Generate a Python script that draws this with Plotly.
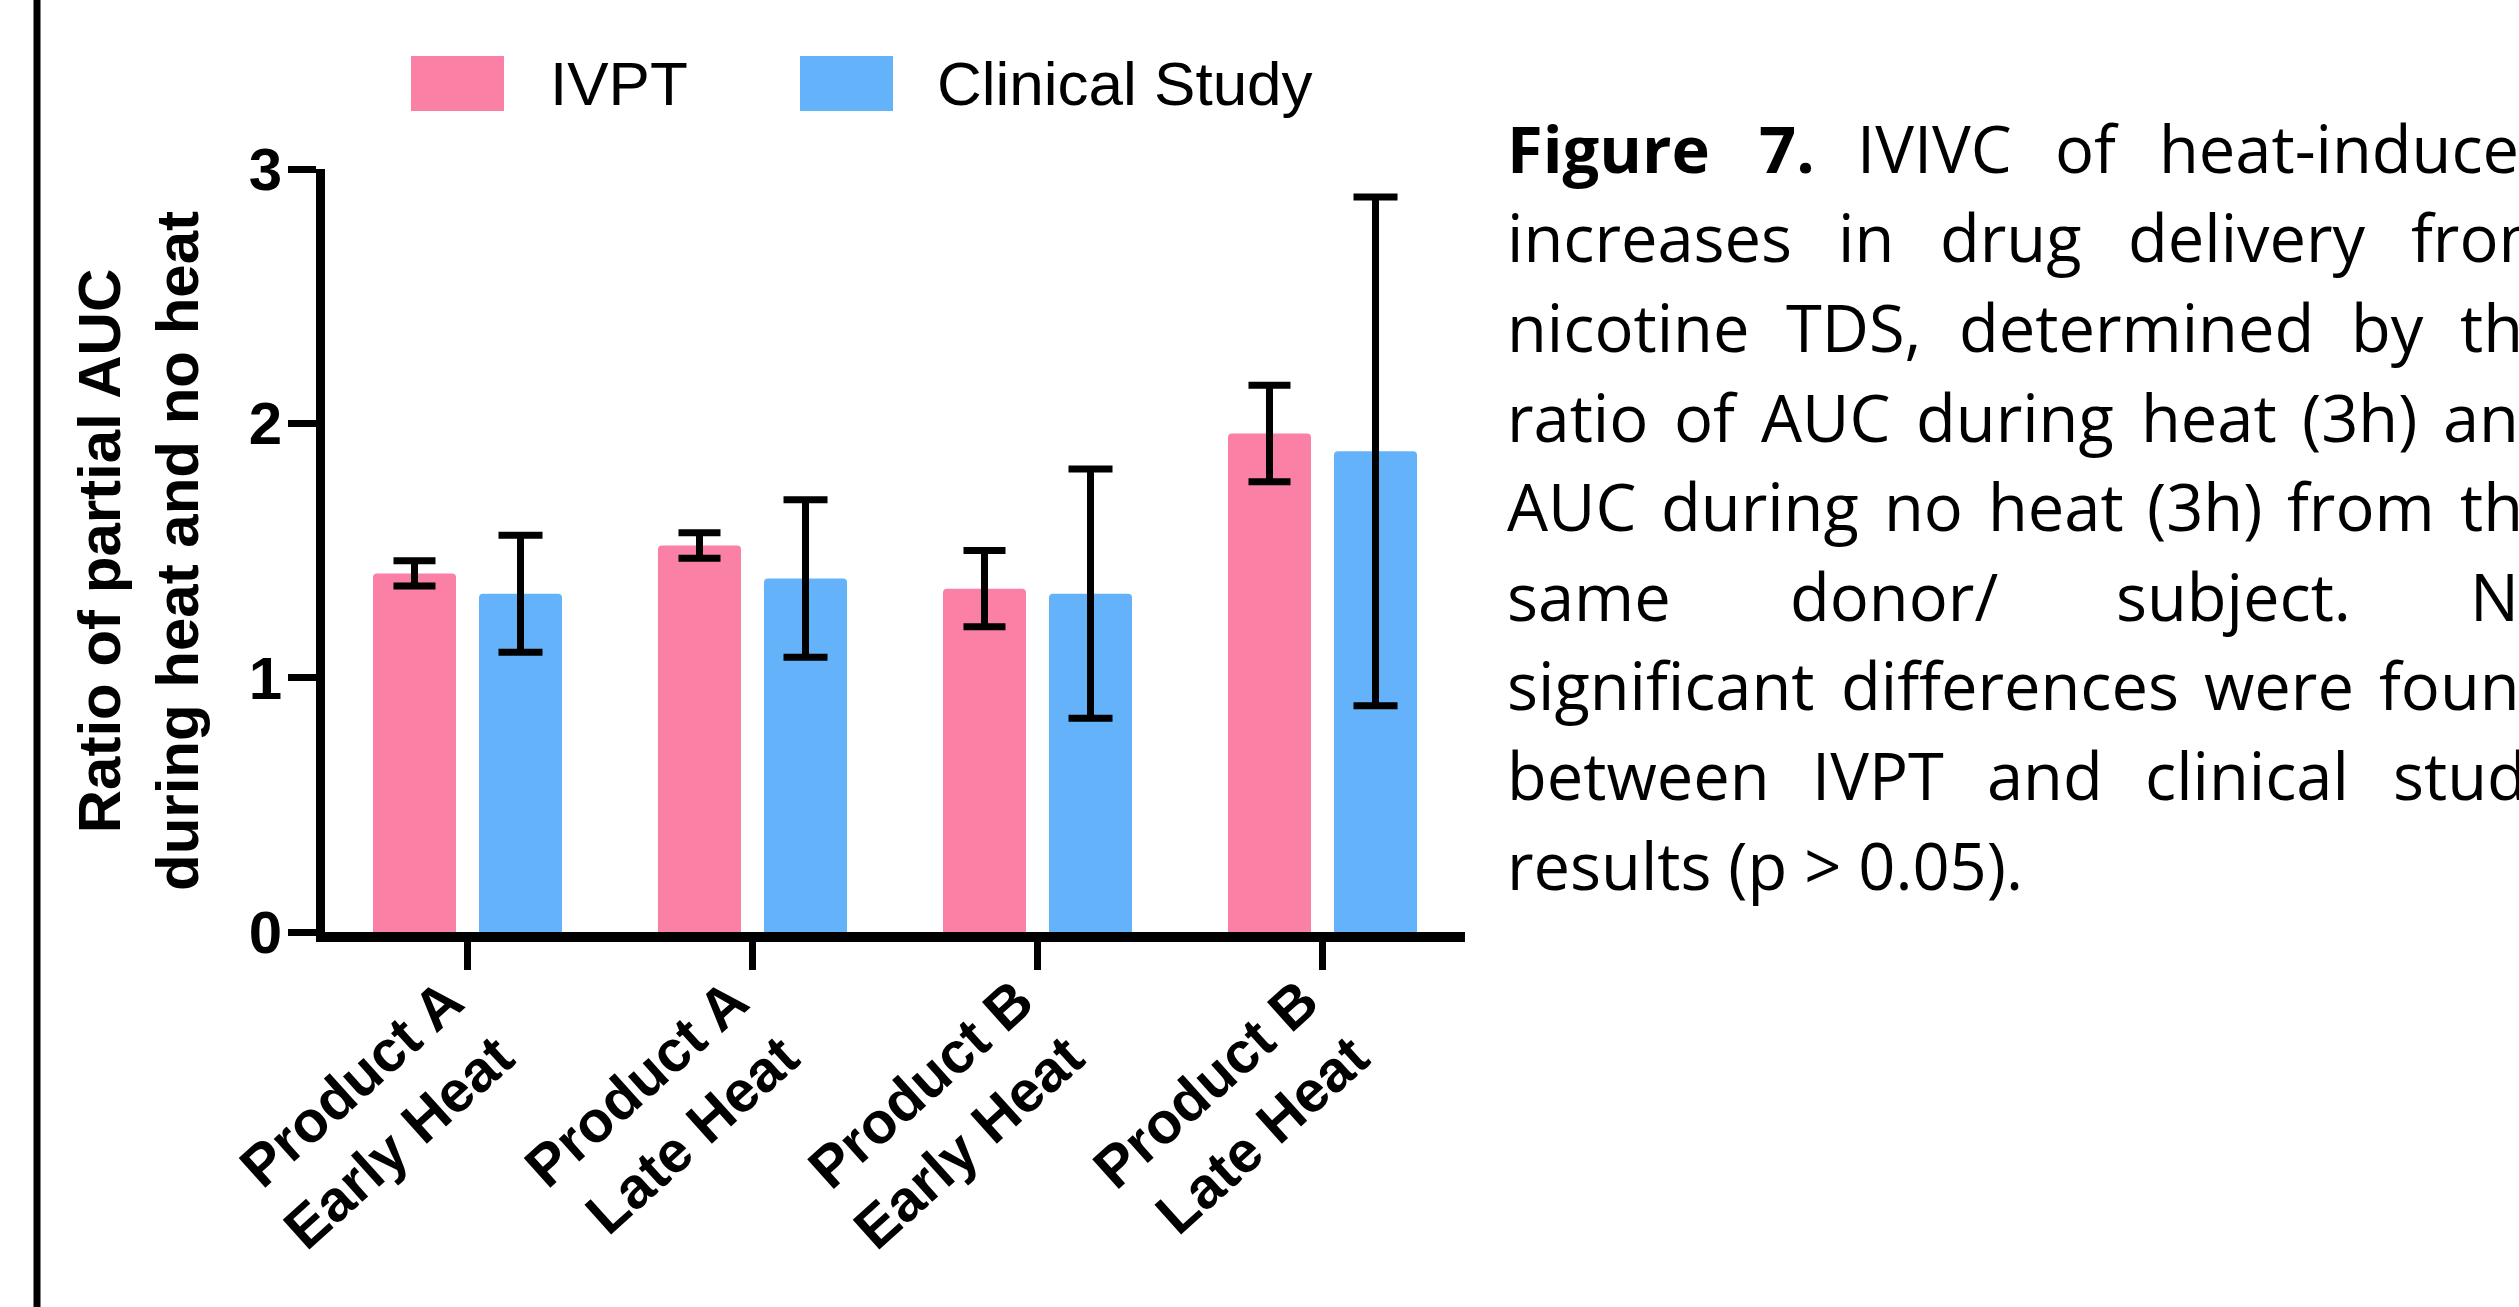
import plotly.graph_objects as go

# ---- data -------------------------------------------------------------
categories = ["Product A<br>Early Heat", "Product A<br>Late Heat",
              "Product B<br>Early Heat", "Product B<br>Late Heat"]
ivpt_mean = [1.41, 1.52, 1.35, 1.96]
ivpt_err = [0.05, 0.05, 0.15, 0.19]
clinical_mean = [1.33, 1.39, 1.33, 1.89]
clinical_err = [0.23, 0.31, 0.49, 1.00]
series_names = ["IVPT", "Clinical Study"]
y_ticks = [0, 1, 2, 3]
y_title = "Ratio of partial AUC<br>during heat and no heat"

caption_lines = [
    ["Figure", "7.", "IVIVC", "of", "heat-induced"],
    ["increases", "in", "drug", "delivery", "from"],
    ["nicotine", "TDS,", "determined", "by", "the"],
    ["ratio", "of", "AUC", "during", "heat", "(3h)", "and"],
    ["AUC", "during", "no", "heat", "(3h)", "from", "the"],
    ["same", "donor/", "subject.", "No"],
    ["significant", "differences", "were", "found"],
    ["between", "IVPT", "and", "clinical", "study"],
    ["results (p > 0.05)."],
]
caption_bold_words = {(0, 0), (0, 1)}

# ---- layout constants (pixels) ----------------------------------------
W, H = 2519, 1307
PL, PR, PT, PB = 325, 1465, 169, 932      # plot area edges
PINK = "#FA80A6"
BLUE = "#64B3FA"

CAP_LEFT, CAP_RIGHT = 1505, 2557          # justified text box (runs past the page edge)
CAP_BASE0, CAP_STEP = 173, 89.6
CAP_SIZE = 65

# approximate Open Sans advance widths (em) used to justify the caption
_REG = {
    'a': .556, 'b': .613, 'c': .48, 'd': .613, 'e': .561, 'f': .336, 'g': .548,
    'h': .613, 'i': .258, 'j': .258, 'k': .53, 'l': .258, 'm': .93, 'n': .613,
    'o': .6, 'p': .613, 'r': .408, 's': .479, 't': .352, 'u': .613, 'v': .5,
    'w': .774, 'y': .5, 'A': .633, 'C': .632, 'D': .74, 'I': .279, 'N': .765,
    'P': .603, 'S': .549, 'T': .556, 'U': .729, 'V': .6, '(': .296, ')': .296,
    '3': .572, '/': .367, '-': .322, '.': .266, ',': .266, '7': .572,
}
_BOLD = {'F': .575, 'i': .305, 'g': .586, 'u': .677, 'r': .47, 'e': .602,
         '7': .572, '.': .285}


def word_width(word, bold):
    table = _BOLD if bold else _REG
    return sum(table.get(ch, _REG.get(ch, .55)) for ch in word) * CAP_SIZE


def fx(px):
    return (px - PL) / (PR - PL)


def fy(py):
    return (PB - py) / (PB - PT)


fig = go.Figure()

fig.add_trace(go.Bar(
    x=categories, y=ivpt_mean, name=series_names[0],
    marker=dict(color=PINK, line=dict(width=0)),
    error_y=dict(type="data", array=ivpt_err, color="black",
                 thickness=7, width=21),
))
fig.add_trace(go.Bar(
    x=categories, y=clinical_mean, name=series_names[1],
    marker=dict(color=BLUE, line=dict(width=0)),
    error_y=dict(type="data", array=clinical_err, color="black",
                 thickness=7, width=22),
))

shapes = []
annotations = []

# legend swatches and labels
legend_items = [(series_names[0], PINK, 411, 548), (series_names[1], BLUE, 800, 935)]
for name, color, sx, tx in legend_items:
    shapes.append(dict(type="rect", xref="paper", yref="paper",
                       x0=fx(sx), x1=fx(sx + 93), y0=fy(111), y1=fy(56),
                       fillcolor=color, line=dict(width=0)))
    annotations.append(dict(text=name, xref="paper", yref="paper",
                            x=fx(tx), y=fy(84), xanchor="left", yanchor="middle",
                            showarrow=False,
                            font=dict(family="Liberation Sans, Arial", size=62,
                                      color="black")))

# frame line on the left edge of the page
shapes.append(dict(type="line", xref="paper", yref="paper",
                   x0=fx(37), x1=fx(37), y0=fy(-5), y1=fy(H + 5),
                   line=dict(color="black", width=7)))

# y-axis title (two bold lines, rotated)
annotations.append(dict(text=y_title, xref="paper", yref="paper",
                        x=fx(138), y=fy(551), xanchor="center", yanchor="middle",
                        textangle=-90, showarrow=False,
                        font=dict(family="Liberation Sans, Arial", size=60,
                                  color="black", weight="bold")))

# caption: fully justified lines, last line left-aligned
for li, words in enumerate(caption_lines):
    baseline = CAP_BASE0 + li * CAP_STEP
    bolds = [(li, wi) in caption_bold_words for wi in range(len(words))]
    widths = [word_width(w, b) for w, b in zip(words, bolds)]
    if len(words) > 1:
        gap = (CAP_RIGHT - CAP_LEFT - sum(widths)) / (len(words) - 1)
    else:
        gap = 0
    x = CAP_LEFT
    for word, bold, wd in zip(words, bolds, widths):
        annotations.append(dict(
            text=word, xref="paper", yref="paper",
            x=fx(x), y=fy(baseline - 0.388 * CAP_SIZE),
            xanchor="left", yanchor="middle", showarrow=False,
            font=dict(family="Open Sans", size=CAP_SIZE, color="black",
                      weight="bold" if bold else "normal"),
        ))
        x += wd + gap

fig.update_layout(
    width=W, height=H,
    margin=dict(l=PL, r=W - PR, t=PT, b=H - PB, pad=0),
    paper_bgcolor="white", plot_bgcolor="white",
    barmode="group", bargap=0.256, bargroupgap=0.217,
    barcornerradius=4,
    showlegend=False,
    shapes=shapes, annotations=annotations,
    xaxis=dict(
        type="category", range=[-0.5, 3.5],
        showline=True, linecolor="black", linewidth=10,
        ticks="outside", ticklen=28, tickwidth=7, tickcolor="black",
        tickangle=-42, showgrid=False, zeroline=False,
        ticklabelstandoff=-26, ticklabelshift=-20,
        tickfont=dict(family="Liberation Sans, Arial", size=58,
                      color="black", weight="bold"),
    ),
    yaxis=dict(
        range=[0, 3], tickvals=y_ticks,
        showline=True, linecolor="black", linewidth=9,
        ticks="outside", ticklen=28, tickwidth=7, tickcolor="black",
        showgrid=False, zeroline=False, ticklabelstandoff=-6,
        tickfont=dict(family="Liberation Sans, Arial", size=60,
                      color="black", weight="bold"),
    ),
)

fig.write_html("out.html")
